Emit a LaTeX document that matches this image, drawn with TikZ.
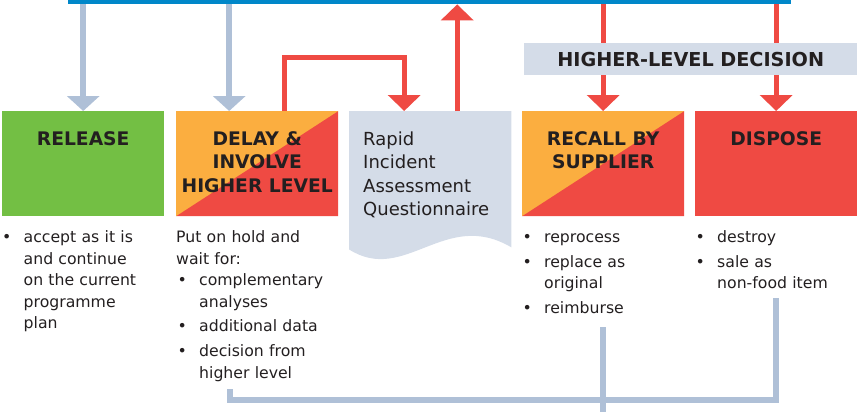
\documentclass[tikz,border=0pt]{standalone}
\usepackage{fontspec}
\setmainfont{DejaVu Sans}
\usetikzlibrary{arrows.meta,calc}
\definecolor{cgreen}{HTML}{73BF44}
\definecolor{corange}{HTML}{FBAE40}
\definecolor{cred}{HTML}{EF4A43}
\definecolor{clight}{HTML}{D4DCE8}
\definecolor{cgrayblue}{HTML}{AFC0D7}
\definecolor{cblue}{HTML}{0087C9}
\definecolor{ctext}{HTML}{231F20}
\newcommand\bitem[1]{\hangindent=23pt\hangafter=1\noindent\makebox[23pt][l]{\kern1.5pt\textbullet}\strut#1\par}
\newcommand\igap{\vspace{3.2pt}}
\begin{document}
\begin{tikzpicture}[x=1pt,y=-1pt,
  box/.style={rectangle, minimum width=162pt, minimum height=105pt, inner sep=0pt, anchor=north west, draw=none},
  splitbox/.style={box, fill=corange, path picture={\fill[cred] (path picture bounding box.south west) -- (path picture bounding box.north east) -- (path picture bounding box.south east) -- cycle;}},
  boxtitle/.style={anchor=north, inner sep=0pt, align=center, text=ctext, font=\fontsize{18.7}{23.5}\selectfont\bfseries},
  listtext/.style={anchor=north west, inner sep=0pt, text width=165pt, align=left, text=ctext, font=\fontsize{15.7}{21.5}\selectfont},
  grayarrow/.style={draw=cgrayblue, line width=5.5pt, -{Triangle[width=32pt,length=15pt]}},
  redarrow/.style={draw=cred, line width=5pt, -{Triangle[width=32pt,length=16pt]}},
  grayline/.style={draw=cgrayblue, line width=5.5pt, line join=miter},
]
\useasboundingbox (0,0) rectangle (857,412);

% top bar
\node[fill=cblue, minimum width=723pt, minimum height=4pt, inner sep=0pt, anchor=north west] (topbar) at (68,0) {};

% boxes
\node[box, fill=cgreen] (release) at (2,111) {};
\node[splitbox] (delay) at (176,111) {};
\node[rectangle, minimum width=162pt, minimum height=138pt, inner sep=0pt, anchor=north west] (riaq) at (349,111) {};
\node[splitbox] (recall) at (522,111) {};
\node[box, fill=cred] (dispose) at (695,111) {};

% document shape
\fill[clight] (riaq.north west) -- (riaq.north east) -- ([yshift=2pt]riaq.south east)
  .. controls (445,208) and (405,285) .. (riaq.south west) -- cycle;

% titles
\node[boxtitle] (reltitle) at ([yshift=-17.45pt]release.north) {\strut RELEASE};
\node[boxtitle] (deltitle) at ([yshift=-17.45pt]delay.north) {\strut DELAY \&\\INVOLVE\\HIGHER LEVEL};
\node[boxtitle] (rectitle) at ([yshift=-17.45pt]recall.north) {\strut RECALL BY\\SUPPLIER};
\node[boxtitle] (distitle) at ([yshift=-17.45pt]dispose.north) {\strut DISPOSE};
\node[anchor=north west, inner sep=0pt, align=left, text=ctext, font=\fontsize{18}{23.5}\selectfont] (riaqtext) at (363,128.55)
  {\strut Rapid\\Incident\\Assessment\\Questionnaire};

% arrows from top bar
\coordinate (d1) at ([xshift=-28pt]delay.north);
\coordinate (d2) at ([xshift=27pt]delay.north);
\coordinate (r1) at ([xshift=-26pt]riaq.north);
\coordinate (r2) at ([xshift=27pt]riaq.north);
\draw[grayarrow] (topbar.south -| release.north) -- (release.north);
\draw[grayarrow] (topbar.south -| d1) -- (d1);
\draw[redarrow] (d2) -- (d2 |- 0,58) -| (r1);
\draw[redarrow] (r2) -- (r2 |- topbar.south);
\draw[redarrow] (topbar.south -| recall.north) -- (recall.north);
\draw[redarrow] (topbar.south -| dispose.north) -- (dispose.north);

% higher-level decision
\node[fill=clight, minimum width=333pt, minimum height=32pt, inner sep=0pt, anchor=north west, text=ctext, font=\fontsize{19.2}{23}\selectfont\bfseries] (decision) at (524,43) {HIGHER-LEVEL DECISION};

% lists
\node[listtext] (rellist) at (0.5,227.5) {\bitem{accept as it is\newline and continue\newline on the current\newline programme\newline plan}};
\node[listtext] (dellist) at (176,227.5) {\strut Put on hold and\newline wait for:\par
  \bitem{complementary\newline analyses}\igap\bitem{additional data}\igap\bitem{decision from\newline higher level}};
\node[listtext] (reclist) at (521,227.5) {\bitem{reprocess}\igap\bitem{replace as\newline original}\igap\bitem{reimburse}};
\node[listtext] (dislist) at (694,227.5) {\bitem{destroy}\igap\bitem{sale as\newline non-food item}};

% bottom connectors
\coordinate (b1) at (230,389);
\coordinate (b2) at (776,298);
\coordinate (b3) at (603,327);
\coordinate (b4) at (603,412);
\draw[grayline] (b1) -- (b1 |- 0,400) -| (b2);
\draw[grayline] (b3) -- (b4);
\end{tikzpicture}
\end{document}
